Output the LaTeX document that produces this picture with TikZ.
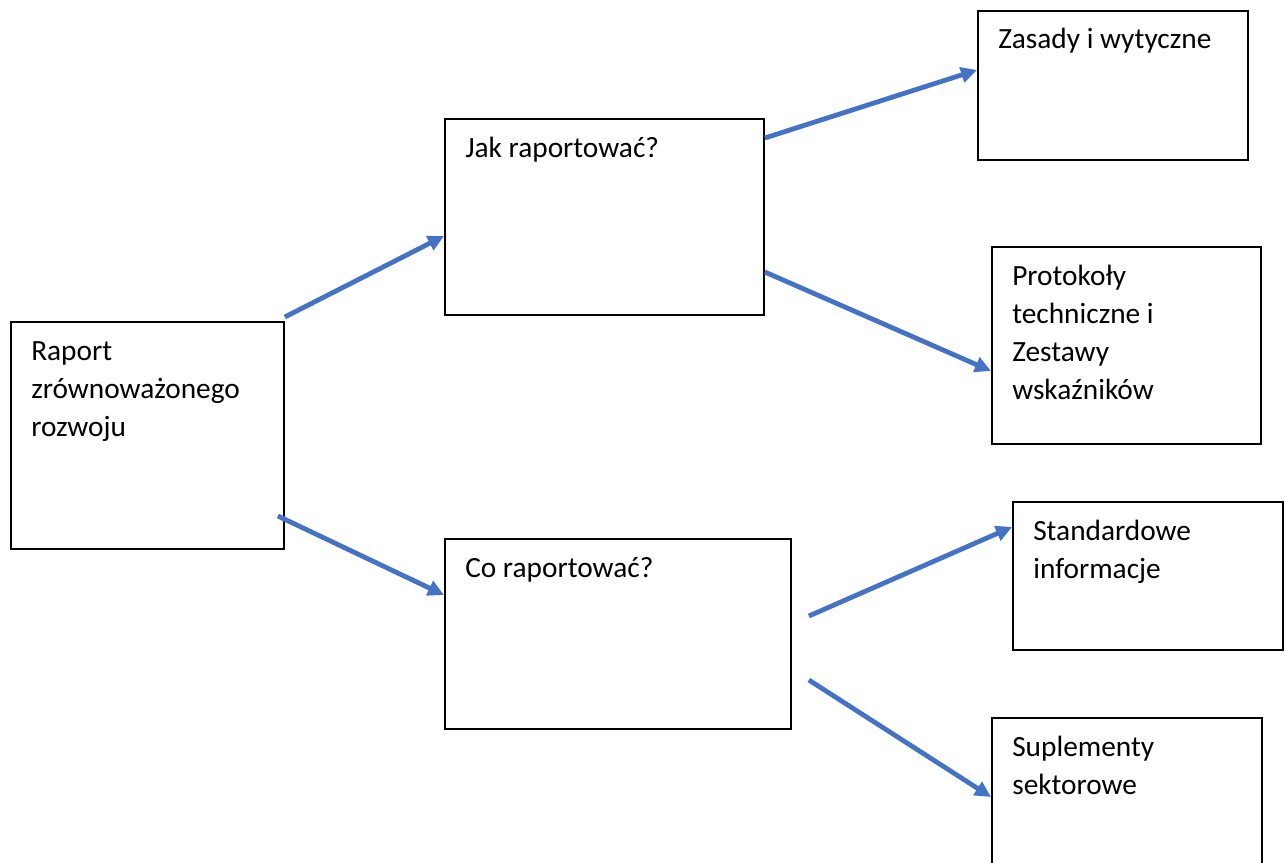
\documentclass[tikz,border=0pt]{standalone}
\usepackage{fontspec}
\setmainfont{Carlito}
\usetikzlibrary{calc,arrows.meta}

\definecolor{niebieski}{HTML}{4472C4}

\tikzset{
  blok/.style={draw, line width=1.4pt, inner sep=0pt, anchor=north west},
  opis/.style={anchor=base west, inner sep=0pt, text width=250pt, align=flush left,
    font=\fontsize{22}{28.5}\selectfont},
  strzalka/.style={draw=niebieski, line width=3.6pt,
    -{Triangle[length=12pt,width=11.5pt]}}
}

\begin{document}
\begin{tikzpicture}[x=0.75pt, y=-0.75pt]
  % page frame
  \useasboundingbox (0,0) rectangle (1284,863);
  \clip (0,0) rectangle (1284,863);

  % left box
  \node[blok, minimum width=273*0.75pt, minimum height=227*0.75pt] (raport) at (10,321) {};
  % middle boxes
  \node[blok, minimum width=319*0.75pt, minimum height=196*0.75pt] (jak) at (444,118) {};
  \node[blok, minimum width=346*0.75pt, minimum height=190*0.75pt] (co) at (444,538) {};
  % right boxes
  \node[blok, minimum width=270*0.75pt, minimum height=149*0.75pt] (zasady) at (977,10) {};
  \node[blok, minimum width=269*0.75pt, minimum height=197*0.75pt] (protokoly) at (991,246) {};
  \node[blok, minimum width=270*0.75pt, minimum height=148*0.75pt] (standard) at (1012,501) {};
  \node[blok, minimum width=270*0.75pt, minimum height=170*0.75pt] (suplementy) at (991,717) {};

  % texts, top left in each box
  \node[opis] (raport-txt) at ($(raport.north west)+(21,39)$) {Raport\\zrównoważonego\\rozwoju};
  \node[opis] (jak-txt) at ($(jak.north west)+(21,39)$) {Jak raportować?};
  \node[opis] (co-txt) at ($(co.north west)+(21,39)$) {Co raportować?};
  \node[opis] (zasady-txt) at ($(zasady.north west)+(21,39)$) {Zasady i wytyczne};
  \node[opis] (protokoly-txt) at ($(protokoly.north west)+(21,39)$) {Protokoły\\techniczne i\\Zestawy\\wskaźników};
  \node[opis] (standard-txt) at ($(standard.north west)+(21,39)$) {Standardowe\\informacje};
  \node[opis] (suplementy-txt) at ($(suplementy.north west)+(21,39)$) {Suplementy\\sektorowe};

  % arrows
  \draw[strzalka] ($(raport.north east)+(0,-4)$) -- ($(jak.north west)+(0,118)$);
  \draw[strzalka] ($(raport.north east)+(-7,195)$) -- ($(co.north west)+(0,57)$);
  \draw[strzalka] ($(jak.north east)+(0,20)$) -- ($(zasady.north west)+(0,60)$);
  \draw[strzalka] ($(jak.north east)+(0,154)$) -- ($(protokoly.north west)+(0,125)$);
  \draw[strzalka] ($(co.north east)+(17,78)$) -- ($(standard.north west)+(0,26)$);
  \draw[strzalka] ($(co.north east)+(17,142)$) -- ($(suplementy.north west)+(0,80)$);
\end{tikzpicture}
\end{document}
